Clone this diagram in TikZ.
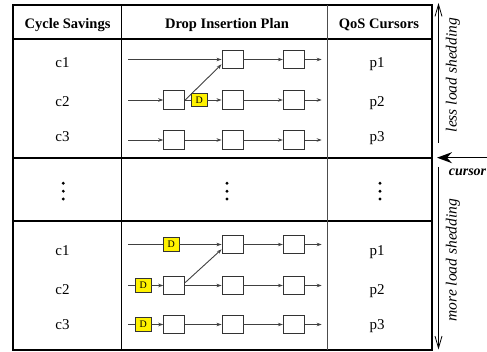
\documentclass[tikz,border=0pt]{standalone}
\usepackage{fontspec}
\setmainfont{Liberation Serif}
\usetikzlibrary{arrows.meta,calc}
\begin{document}
\begin{tikzpicture}[x=1pt,y=-1pt,
  opbox/.style={draw=black!80,line width=0.9pt,minimum width=21pt,minimum height=18.5pt,inner sep=0pt,fill=white},
  dropbox/.style={draw=black!80,line width=0.8pt,fill=yellow,minimum width=15.5pt,minimum height=13.5pt,inner sep=0pt,font=\fontsize{10}{12}\selectfont},
  flow/.style={draw=black!75,line width=0.9pt},
  arr/.style={flow,-{Stealth[length=5pt,width=3.5pt]}},
  cell/.style={font=\fontsize{15}{18}\selectfont,anchor=base},
  head/.style={font=\bfseries\fontsize{14.5}{17}\selectfont,anchor=base},
  frame/.style={line width=2pt},
  divider/.style={line width=1.3pt},
  side/.style={line width=0.8pt,-{Straight Barb[length=12pt,width=7pt]}},
  sidetext/.style={font=\itshape\fontsize{15.5}{18}\selectfont,rotate=90},
  vdot/.style={fill=black},
]
\useasboundingbox (0,0) rectangle (487,352);

% table frame and rules
\draw[frame] (13.3,4.8) rectangle (431.7,349.6);
\draw[frame] (13.3,39.3) -- (431.7,39.3);
\draw[frame] (13.3,157.7) -- (431.7,157.7);
\draw[frame] (13.3,220.7) -- (431.7,220.7);
\draw[divider] (121.7,4.8) -- (121.7,349.6);
\draw[divider,black!70] (327.3,4.8) -- (327.3,349.6);

% headers
\node[head] (h1) at (67.5,29) {Cycle Savings};
\node[head] (h2) at (227,29) {Drop Insertion Plan};
\node[head] (h3) at (379,29) {QoS Cursors};

% cycle savings and cursor labels
\foreach \n/\y in {1/68,2/107,3/142} {
  \node[cell] (tc\n) at (62.5,\y) {c\n};
  \node[cell] (tp\n) at (377,\y) {p\n};
}
\foreach \n/\y in {1/256,2/295,3/330} {
  \node[cell] (bc\n) at (62.5,\y) {c\n};
  \node[cell] (bp\n) at (377,\y) {p\n};
}

% elided rows
\foreach \x in {63.3,227,380} {
  \foreach \y in {183.3,191.2,199} {
    \fill[vdot] (\x,\y) circle (1.6pt);
  }
}

% ---- upper plan ----
\node[opbox] (tB1) at (232.5,59.5) {};
\node[opbox] (tC1) at (293.8,59.5) {};
\node[opbox] (tA2) at (174.2,100) {};
\node[dropbox] (tD2) at (199.2,100) {D};
\node[opbox] (tB2) at (232.5,100) {};
\node[opbox] (tC2) at (293.8,100) {};
\node[opbox] (tA3) at (174.2,140) {};
\node[opbox] (tB3) at (232.5,140) {};
\node[opbox] (tC3) at (293.8,140) {};
\coordinate (ti1) at (128.3,59.5);
\coordinate (ti2) at (128.3,100);
\coordinate (ti3) at (128.3,140);
\coordinate (to1) at (321.7,59.5);
\coordinate (to2) at (321.7,100);
\coordinate (to3) at (321.7,140);

\draw[arr] (ti1) -- (tB1);
\draw[arr] (ti2) -- (tA2);
\draw[flow] (tA2) -- (tD2);
\draw[arr] (tD2) -- (tB2);
\draw[arr] (tA2.east) -- ($(tB1.west)!0.5!(tB1.south west)$);
\draw[arr] (ti3) -- (tA3);
\draw[arr] (tA3) -- (tB3);
\foreach \n in {1,2,3} {
  \draw[arr] (tB\n) -- (tC\n);
  \draw[arr] (tC\n) -- (to\n);
}

% ---- lower plan ----
\node[dropbox] (bD1) at (171.3,244.5) {D};
\node[opbox] (bB1) at (232.5,244.5) {};
\node[opbox] (bC1) at (293.8,244.5) {};
\node[dropbox] (bD2) at (143.3,285.5) {D};
\node[opbox] (bA2) at (174.2,285.5) {};
\node[opbox] (bB2) at (232.5,285.5) {};
\node[opbox] (bC2) at (293.8,285.5) {};
\node[dropbox] (bD3) at (143.3,324.5) {D};
\node[opbox] (bA3) at (174.2,324.5) {};
\node[opbox] (bB3) at (232.5,324.5) {};
\node[opbox] (bC3) at (293.8,324.5) {};
\coordinate (bi1) at (128.3,244.5);
\coordinate (bi2) at (128.3,285.5);
\coordinate (bi3) at (128.3,324.5);
\coordinate (bo1) at (321.7,244.5);
\coordinate (bo2) at (321.7,285.5);
\coordinate (bo3) at (321.7,324.5);

\draw[flow] (bi1) -- (bD1);
\draw[arr] (bD1) -- (bB1);
\draw[flow] (bi2) -- (bD2);
\draw[arr] (bD2) -- (bA2);
\draw[arr] (bA2) -- (bB2);
\draw[arr] ($(bA2.east)!0.3!(bA2.north east)$) -- ($(bB1.west)!0.5!(bB1.south west)$);
\draw[flow] (bi3) -- (bD3);
\draw[arr] (bD3) -- (bA3);
\draw[arr] (bA3) -- (bB3);
\foreach \n in {1,2,3} {
  \draw[arr] (bB\n) -- (bC\n);
  \draw[arr] (bC\n) -- (bo\n);
}

% ---- load shedding direction and cursor ----
\coordinate (upS) at (438.5,143);
\coordinate (upE) at (438.5,3);
\coordinate (dnS) at (438.5,167);
\coordinate (dnE) at (438.5,349.5);
\draw[side] (upS) -- (upE);
\draw[side] (dnS) -- (dnE);
\node[sidetext] (less) at (453,75) {less load shedding};
\node[sidetext] (more) at (453,260) {more load shedding};

\coordinate (cS) at (487,157.7);
\coordinate (cE) at (437,157.7);
\draw[line width=1.4pt,-{Stealth[length=15pt,width=11pt,inset=5pt]}] (cS) -- (cE);
\node[font=\bfseries\itshape\fontsize{14}{17}\selectfont,anchor=base] (cur) at (467.5,176) {cursor};
\end{tikzpicture}
\end{document}
